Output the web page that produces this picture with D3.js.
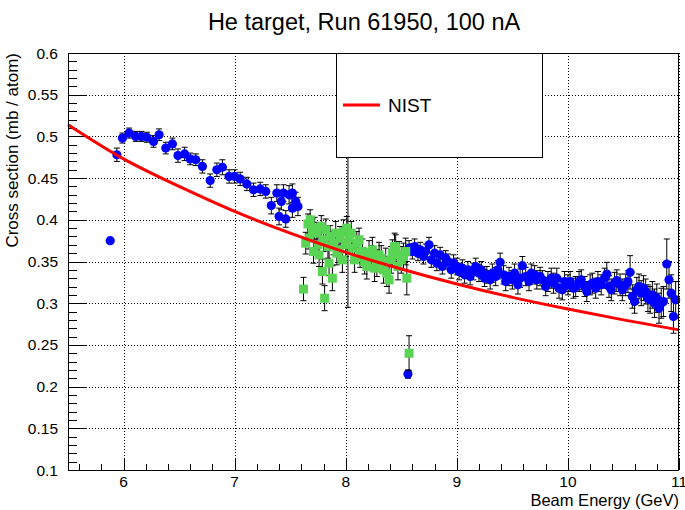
<!DOCTYPE html>
<html>
<head>
<meta charset="utf-8">
<script src="https://cdn.jsdelivr.net/npm/d3@7"></script>
<style>
  body { margin: 0; background: #fff; }
  svg text { font-family: "Liberation Sans", Arial, sans-serif; }
</style>
</head>
<body>
<div id="chart"></div>
<script>
// blue series (circles): energy, cross section, error
const blueX = [5.88, 5.94, 5.99, 6.05, 6.11, 6.16, 6.21, 6.27, 6.32, 6.38, 6.44, 6.49, 6.55, 6.60, 6.65, 6.71, 6.78, 6.84, 6.89, 6.95, 7.00, 7.05, 7.11, 7.17, 7.23, 7.28,
  7.33, 7.38, 7.40, 7.42, 7.44, 7.46, 7.49, 7.52, 7.52, 7.55, 7.57,
  8.57, 8.60, 8.62, 8.65, 8.67, 8.70, 8.72, 8.75, 8.77, 8.80, 8.82, 8.85, 8.87, 8.90, 8.92, 8.95, 8.97, 9.00, 9.02, 9.05, 9.07, 9.10, 9.12, 9.15,
  9.17, 9.20, 9.22, 9.25, 9.27, 9.30, 9.32, 9.35, 9.37, 9.39, 9.42, 9.44, 9.47, 9.50, 9.52, 9.55, 9.57, 9.59, 9.62, 9.65, 9.67, 9.70, 9.72, 9.75,
  9.77, 9.80, 9.82, 9.85, 9.87, 9.90, 9.92, 9.95, 9.97, 10.00, 10.02, 10.05, 10.07, 10.10, 10.12, 10.15, 10.17, 10.20, 10.22, 10.25, 10.27, 10.30,
  10.33, 10.35, 10.37, 10.39, 10.42, 10.44, 10.47, 10.49, 10.52, 10.54, 10.56, 10.58, 10.60, 10.62, 10.64, 10.66, 10.68, 10.70, 10.72, 10.74, 10.76,
  10.78, 10.80, 10.82, 10.84, 10.86, 10.89, 10.91, 10.93, 10.95, 10.97, 8.56];
const blueY = [0.375, 0.478, 0.498, 0.504, 0.500, 0.500, 0.499, 0.494, 0.502, 0.486, 0.491, 0.477, 0.479, 0.473, 0.472, 0.464, 0.447, 0.460, 0.463, 0.452, 0.452, 0.449, 0.443, 0.436, 0.437, 0.434,
  0.417, 0.432, 0.404, 0.422, 0.432, 0.401, 0.430, 0.432, 0.414, 0.422, 0.416,
  0.366, 0.362, 0.368, 0.360, 0.364, 0.356, 0.362, 0.370, 0.352, 0.360, 0.348, 0.358, 0.344, 0.354, 0.350, 0.340, 0.348, 0.344, 0.338, 0.342, 0.334, 0.340, 0.332, 0.338,
  0.344, 0.336, 0.340, 0.330, 0.334, 0.328, 0.336, 0.332, 0.340, 0.349, 0.334, 0.326, 0.332, 0.328, 0.336, 0.322, 0.330, 0.345, 0.332, 0.326, 0.336, 0.334, 0.328, 0.332,
  0.328, 0.320, 0.326, 0.330, 0.324, 0.330, 0.318, 0.316, 0.326, 0.322, 0.326, 0.318, 0.320, 0.326, 0.328, 0.320, 0.314, 0.322, 0.324, 0.318, 0.326, 0.322,
  0.330, 0.335, 0.320, 0.316, 0.324, 0.327, 0.322, 0.316, 0.322, 0.326, 0.337, 0.308, 0.302, 0.316, 0.320, 0.312, 0.318, 0.314, 0.306, 0.304, 0.310,
  0.300, 0.306, 0.294, 0.300, 0.302, 0.347, 0.328, 0.312, 0.284, 0.304, 0.215];
const blueErr = [0.002, 0.008, 0.006, 0.006, 0.006, 0.006, 0.006, 0.007, 0.007, 0.007, 0.007, 0.008, 0.008, 0.007, 0.007, 0.008, 0.008, 0.008, 0.009, 0.008, 0.008, 0.008, 0.008, 0.008, 0.008, 0.008,
  0.010, 0.010, 0.010, 0.010, 0.010, 0.010, 0.011, 0.011, 0.011, 0.011, 0.011,
  0.009, 0.009, 0.009, 0.009, 0.009, 0.009, 0.009, 0.009, 0.009, 0.009, 0.009, 0.009, 0.009, 0.009, 0.009, 0.010, 0.010, 0.010, 0.010, 0.010, 0.010, 0.010, 0.010, 0.010,
  0.010, 0.010, 0.010, 0.010, 0.010, 0.011, 0.011, 0.011, 0.011, 0.011, 0.011, 0.011, 0.011, 0.011, 0.011, 0.011, 0.011, 0.011, 0.011, 0.011, 0.011, 0.011, 0.011, 0.011,
  0.011, 0.011, 0.012, 0.012, 0.012, 0.012, 0.012, 0.012, 0.012, 0.012, 0.012, 0.012, 0.012, 0.012, 0.012, 0.012, 0.012, 0.012, 0.012, 0.012, 0.012, 0.012,
  0.012, 0.014, 0.013, 0.013, 0.013, 0.013, 0.013, 0.013, 0.013, 0.013, 0.020, 0.014, 0.014, 0.015, 0.015, 0.015, 0.015, 0.015, 0.016, 0.016, 0.016,
  0.017, 0.017, 0.018, 0.018, 0.018, 0.030, 0.022, 0.022, 0.020, 0.022, 0.005];

// green series (squares)
const greenX = [7.62, 7.64, 7.66, 7.67, 7.68, 7.70, 7.71, 7.72, 7.74, 7.75, 7.76, 7.78, 7.79, 7.80, 7.81, 7.82, 7.84, 7.85, 7.86, 7.88, 7.89, 7.91, 7.92, 7.94, 7.95,
  7.97, 7.98, 8.00, 8.01, 8.03, 8.05, 8.06, 8.08, 8.10, 8.12, 8.13, 8.15, 8.17, 8.19, 8.21, 8.23, 8.24, 8.26, 8.28, 8.30, 8.32, 8.34, 8.36, 8.37, 8.39,
  8.41, 8.42, 8.44, 8.45, 8.47, 8.48, 8.50, 8.52, 8.54, 8.55, 8.57, 8.02];
const greenY = [0.317, 0.372, 0.395, 0.378, 0.400, 0.388, 0.362, 0.390, 0.384, 0.370, 0.358, 0.392, 0.338, 0.376, 0.306, 0.388, 0.368, 0.348, 0.380, 0.330, 0.372, 0.384, 0.360, 0.364, 0.378,
  0.352, 0.386, 0.370, 0.390, 0.378, 0.384, 0.366, 0.352, 0.372, 0.376, 0.358, 0.362, 0.350, 0.344, 0.360, 0.354, 0.364, 0.342, 0.348, 0.358, 0.354, 0.340, 0.350, 0.336, 0.328,
  0.352, 0.360, 0.368, 0.366, 0.344, 0.358, 0.352, 0.356, 0.362, 0.330, 0.240, 0.385];
const greenErr = [0.014, 0.013, 0.012, 0.013, 0.012, 0.013, 0.014, 0.013, 0.013, 0.014, 0.014, 0.013, 0.015, 0.014, 0.015, 0.013, 0.014, 0.015, 0.013, 0.015, 0.014, 0.014, 0.014, 0.015, 0.014,
  0.015, 0.014, 0.014, 0.014, 0.014, 0.014, 0.015, 0.015, 0.014, 0.014, 0.015, 0.015, 0.015, 0.015, 0.015, 0.015, 0.015, 0.016, 0.016, 0.015, 0.015, 0.016, 0.016, 0.016, 0.016,
  0.016, 0.016, 0.016, 0.016, 0.016, 0.016, 0.016, 0.016, 0.016, 0.020, 0.021, 0.090];

// NIST curve
const nistX = [5.5, 6.0, 6.5, 7.0, 7.5, 8.0, 8.5, 9.0, 9.5, 10.0, 10.5, 11.0];
const nistY = [0.514, 0.473, 0.440, 0.410, 0.384, 0.361, 0.341, 0.323, 0.307, 0.293, 0.280, 0.268];

const xTicks = [6, 7, 8, 9, 10, 11];
const yTicks = [0.1, 0.15, 0.2, 0.25, 0.3, 0.35, 0.4, 0.45, 0.5, 0.55, 0.6];
const yTickLabels = ["0.1", "0.15", "0.2", "0.25", "0.3", "0.35", "0.4", "0.45", "0.5", "0.55", "0.6"];

const W = 685, H = 510;
const m = { left: 68, right: 6, top: 53, bottom: 40 };
const svg = d3.select("#chart").append("svg").attr("width", W).attr("height", H);

const x = d3.scaleLinear().domain([5.5, 11]).range([m.left, W - m.right]);
const y = d3.scaleLinear().domain([0.1, 0.6]).range([H - m.bottom, m.top]);
const x0 = m.left, x1 = W - m.right, y0 = H - m.bottom, y1 = m.top;

// grid
const grid = svg.append("g").attr("stroke", "#000").attr("stroke-width", 1).attr("stroke-dasharray", "1,2");
xTicks.forEach(v => grid.append("line").attr("x1", Math.round(x(v)) + 0.5).attr("x2", Math.round(x(v)) + 0.5).attr("y1", y1).attr("y2", y0));
yTicks.forEach(v => grid.append("line").attr("y1", Math.round(y(v)) + 0.5).attr("y2", Math.round(y(v)) + 0.5).attr("x1", x0).attr("x2", x1));

// ticks (inside the frame, ROOT style)
const ticks = svg.append("g").attr("stroke", "#000").attr("stroke-width", 1);
d3.range(5.6, 11.01, 0.2).forEach(v => {
  const major = Math.abs(v - Math.round(v)) < 1e-6;
  const px = Math.round(x(v)) + 0.5;
  ticks.append("line").attr("x1", px).attr("x2", px).attr("y1", y0).attr("y2", y0 - (major ? 12 : 6));
});
d3.range(0.1, 0.6001, 0.01).forEach(v => {
  const major = Math.abs(v * 20 - Math.round(v * 20)) < 1e-6;
  const py = Math.round(y(v)) + 0.5;
  ticks.append("line").attr("y1", py).attr("y2", py).attr("x1", x0).attr("x2", x0 + (major ? 18 : 9));
});

// error bars
function errBars(xs, ys, es) {
  const g = svg.append("g").attr("stroke", "#000").attr("stroke-width", 1);
  xs.forEach((v, i) => {
    const px = x(v), lo = y(ys[i] - es[i]), hi = y(ys[i] + es[i]);
    g.append("line").attr("x1", px).attr("x2", px).attr("y1", lo).attr("y2", hi);
    g.append("line").attr("x1", px - 3).attr("x2", px + 3).attr("y1", lo).attr("y2", lo);
    g.append("line").attr("x1", px - 3).attr("x2", px + 3).attr("y1", hi).attr("y2", hi);
  });
}

errBars(blueX, blueY, blueErr);
svg.append("g").selectAll("circle").data(blueX).join("circle")
  .attr("cx", d => x(d)).attr("cy", (d, i) => y(blueY[i])).attr("r", 4.6).attr("fill", "#0000ff");

errBars(greenX.slice(0, -1), greenY.slice(0, -1), greenErr.slice(0, -1));
errBars(greenX.slice(-1), greenY.slice(-1), greenErr.slice(-1));
svg.append("g").selectAll("rect").data(greenX.slice(0, -1)).join("rect")
  .attr("x", d => x(d) - 4.5).attr("y", (d, i) => y(greenY[i]) - 4.5)
  .attr("width", 9).attr("height", 9).attr("fill", "#59d454");

// NIST
const line = d3.line().x(d => x(d[0])).y(d => y(d[1])).curve(d3.curveNatural);
svg.append("path").datum(nistX.map((v, i) => [v, nistY[i]]))
  .attr("d", line).attr("fill", "none").attr("stroke", "#ff0000").attr("stroke-width", 3);

// frame
svg.append("rect").attr("x", x0 + 0.5).attr("y", y1 + 0.5).attr("width", x1 - x0 - 1).attr("height", y0 - y1)
  .attr("fill", "none").attr("stroke", "#000").attr("stroke-width", 1);

// legend
const lg = svg.append("g");
lg.append("rect").attr("x", 336.5).attr("y", 53.5).attr("width", 206).attr("height", 104)
  .attr("fill", "#fff").attr("stroke", "#000").attr("stroke-width", 1);
lg.append("line").attr("x1", 343).attr("x2", 380).attr("y1", 105).attr("y2", 105).attr("stroke", "#ff0000").attr("stroke-width", 3);
lg.append("text").attr("x", 388).attr("y", 112).attr("font-size", 19).text("NIST");

// tick labels
svg.append("g").selectAll("text").data(xTicks).join("text")
  .attr("x", d => x(d)).attr("y", 487).attr("text-anchor", "middle").attr("font-size", 15.5).text(d => d);
svg.append("g").selectAll("text").data(yTicks).join("text")
  .attr("x", 58).attr("y", d => y(d) + 5.5).attr("text-anchor", "end").attr("font-size", 15.5).text((d, i) => yTickLabels[i]);

// titles
svg.append("text").attr("x", 364).attr("y", 30).attr("text-anchor", "middle").attr("font-size", 23.5)
  .text("He target, Run 61950, 100 nA");
svg.append("text").attr("x", 679).attr("y", 506).attr("text-anchor", "end").attr("font-size", 16.5)
  .text("Beam Energy (GeV)");
svg.append("text").attr("transform", "translate(18,53) rotate(-90)").attr("text-anchor", "end").attr("font-size", 17)
  .text("Cross section (mb / atom)");
</script>
</body>
</html>
